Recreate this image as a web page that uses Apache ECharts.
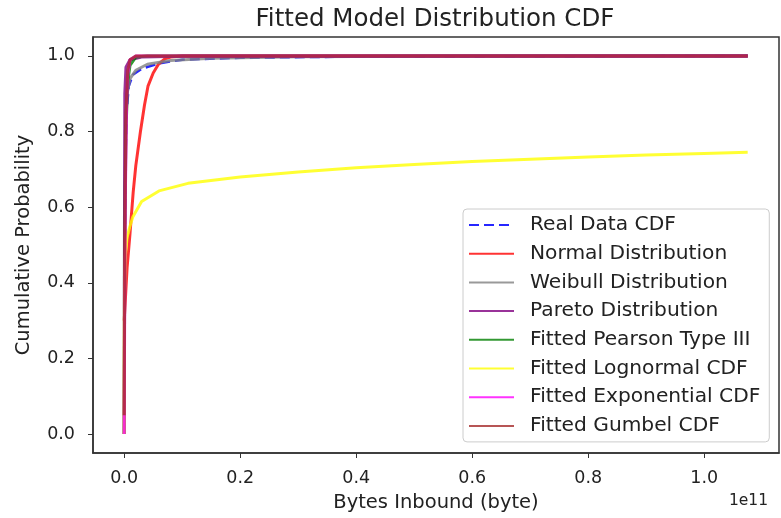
<!DOCTYPE html>
<html><head><meta charset="utf-8">
<script src="https://cdn.jsdelivr.net/npm/echarts@6/dist/echarts.min.js"></script>
<style>html,body{margin:0;padding:0;background:#fff}#c{width:781px;height:518px}</style>
</head><body><div id="c"></div>
<script>
// Data: [bytes, cumulative probability]
const seriesNames = ['Real Data CDF','Normal Distribution','Weibull Distribution','Pareto Distribution','Fitted Pearson Type III','Fitted Lognormal CDF','Fitted Exponential CDF','Fitted Gumbel CDF'];
const realData = [[0,0],[5e7,0.3],[1e8,0.5],[2e8,0.7],[4e8,0.85],[8e8,0.92],[1.5e9,0.95],[3e9,0.966],[6e9,0.98],[1e10,0.99],[2e10,0.995],[4e10,0.998],[1.075e11,1.0]];
const normalCdf = [[0,0.3],[5e8,0.44],[1e9,0.53],[1.55e9,0.64],[2e9,0.71],[2.8e9,0.8],[3.5e9,0.87],[4.1e9,0.92],[5e9,0.955],[5.9e9,0.978],[7e9,0.992],[8e9,0.997],[1e10,0.9995],[2e10,1.0],[1.075e11,1.0]];
const weibullCdf = [[0,0],[1e7,0.4],[5e7,0.6],[2e8,0.8],[5e8,0.9],[1e9,0.94],[2e9,0.962],[4e9,0.978],[8e9,0.988],[1.5e10,0.994],[3e10,0.998],[6e10,0.9995],[1.075e11,1.0]];
const paretoCdf = [[0,0],[1e8,0.9],[3e8,0.97],[1e9,0.99],[3e9,0.997],[1e10,0.999],[1.075e11,1.0]];
const pearsonCdf = [[0,0],[1e8,0.5],[3e8,0.8],[6e8,0.93],[1e9,0.975],[2e9,0.997],[4e9,1.0],[1.075e11,1.0]];
const lognormalCdf = [[0,0],[1e6,0.1],[1e7,0.25],[5e7,0.38],[2e8,0.47],[5e8,0.52],[1e9,0.55],[1.5e9,0.575],[3e9,0.615],[6e9,0.643],[1.1e10,0.663],[2e10,0.68],[3e10,0.693],[4e10,0.704],[5e10,0.713],[6e10,0.721],[7e10,0.727],[8e10,0.733],[9e10,0.738],[1e11,0.742],[1.075e11,0.745]];
const exponentialCdf = [[0,0],[5e7,0.2],[1e8,0.4],[2e8,0.63],[4e8,0.86],[6e8,0.95],[1e9,0.99],[2e9,1.0],[1.075e11,1.0]];
const gumbelCdf = [[0,0.05],[1e8,0.5],[3e8,0.85],[6e8,0.96],[1e9,0.99],[2e9,1.0],[1.075e11,1.0]];
const seriesData = [realData, normalCdf, weibullCdf, paretoCdf, pearsonCdf, lognormalCdf, exponentialCdf, gumbelCdf];
const seriesColors = ['#0000ff','#ff0000','#808080','#800080','#008000','#ffff00','#ff00ff','#a52a2a'];
const xTicks = [0, 0.2e11, 0.4e11, 0.6e11, 0.8e11, 1.0e11];
const yTicks = [0, 0.2, 0.4, 0.6, 0.8, 1.0];

const FONT = 'DejaVu Sans';
const chart = echarts.init(document.getElementById('c'), null, {renderer:'canvas'});
const series = seriesNames.map((n, i) => ({
  name: n, type: 'line', data: seriesData[i], symbol: 'none', showSymbol: false,
  lineStyle: {color: seriesColors[i], width: i === 0 ? 2.4 : 3, type: i === 0 ? [10, 5] : 'solid', opacity: i === 0 ? 0.85 : 0.8},
  itemStyle: {color: seriesColors[i]},
  animation: false, z: 2 + i
}));
chart.setOption({
  animation: false,
  backgroundColor: '#fff',
  grid: {left: 93, right: 2, top: 37, bottom: 65, show: true, borderColor: '#333', borderWidth: 1.5, containLabel: false},
  xAxis: {
    type: 'value', min: -0.0538e11, max: 1.129e11,
    name: 'Bytes Inbound (byte)', nameLocation: 'middle', nameGap: 40,
    nameTextStyle: {fontFamily: FONT, fontSize: 19.5, color: '#222'},
    axisLine: {show: true, onZero: false, lineStyle: {color: '#333', width: 1.5}},
    axisTick: {show: true, inside: false, length: 5, lineStyle: {color: '#333'}, customValues: xTicks},
    axisLabel: {fontFamily: FONT, fontSize: 17.5, color: '#222', margin: 16, customValues: xTicks, formatter: v => (v / 1e11).toFixed(1)},
    splitLine: {show: false}
  },
  yAxis: {
    type: 'value', min: -0.05, max: 1.05,
    name: 'Cumulative Probability', nameLocation: 'middle', nameGap: 59,
    nameTextStyle: {fontFamily: FONT, fontSize: 19.5, color: '#222'},
    axisLine: {show: true, onZero: false, lineStyle: {color: '#333', width: 1.5}},
    axisTick: {show: true, inside: false, length: 5, lineStyle: {color: '#333'}, customValues: yTicks},
    axisLabel: {fontFamily: FONT, fontSize: 17.5, color: '#222', margin: 18, customValues: yTicks, formatter: v => v.toFixed(1)},
    splitLine: {show: false}
  },
  legend: {
    orient: 'vertical', left: 463, top: 209,
    data: seriesNames,
    itemWidth: 45, itemHeight: 12, itemGap: 8.7,
    itemStyle: {opacity: 0},
    padding: [6, 9, 6, 5],
    backgroundColor: '#fff', borderColor: '#ccc', borderWidth: 1, borderRadius: 4,
    textStyle: {fontFamily: FONT, fontSize: 20.2, color: '#222', lineHeight: 20, padding: [0, 0, 0, 11]}
  },
  graphic: [
    {type: 'text', x: 435, y: 7, style: {text: 'Fitted Model Distribution CDF', fontFamily: FONT, fontSize: 24.5, fill: '#222', textAlign: 'center', textVerticalAlign: 'top'}},
    {type: 'text', x: 768, y: 501, style: {text: '1e11', fontFamily: FONT, fontSize: 15.5, fill: '#222', textAlign: 'right', textVerticalAlign: 'middle'}}
  ],
  series: series
});
</script></body></html>
